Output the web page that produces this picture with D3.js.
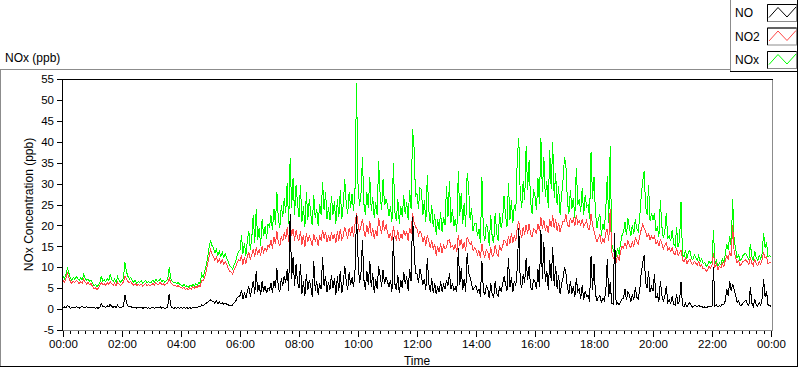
<!DOCTYPE html>
<html><head><meta charset="utf-8">
<script src="https://cdn.jsdelivr.net/npm/d3@7"></script>
<style>
html,body{margin:0;padding:0;background:#fff;}
svg{display:block;font-family:"Liberation Sans",Arial,sans-serif;}
</style></head>
<body>
<svg id="chart" width="800" height="369"></svg>
<script>
// ---- data (3-minute samples, 00:00 .. 24:00; one row per hour) ----
const NO = [
0.3,0.5,0.4,0.8,0.6,0.2,0.4,0.5,0.3,0.6,0.4,0.2,0.5,0.7,0.3,0.4,0.6,0.3,0.4,0.5,
0.4,0.3,0.2,0.3,0.2,0.5,1.3,0.7,0.6,0.4,0.8,0.5,1.2,0.6,0.4,0.7,0.3,0.9,0.5,0.4,
0.5,0.7,3.3,1.6,0.8,0.5,0.6,0.4,0.3,0.5,0.2,0.4,0.3,0.5,0.2,0.3,0.4,0.2,0.3,0.2,
0.3,0.4,0.2,0.5,0.3,0.4,0.5,0.2,0.4,0.2,0.3,0.5,3.7,0.8,0.3,0.2,0.3,0.2,0.3,0.2,
0.3,0.2,0.3,0.2,0.3,0.2,0.3,0.2,0.4,0.3,0.4,0.3,0.6,0.5,1.0,0.8,1.1,1.4,1.6,2.0,
2.2,1.9,1.8,1.4,2.0,1.3,1.7,1.2,1.6,1.1,1.4,1.2,1.0,0.9,0.8,1.0,1.5,1.8,2.6,3.0,
3.2,4.6,2.4,3.8,2.6,4.2,5.4,3.0,4.6,6.8,3.6,9.2,4.2,5.8,3.4,6.6,4.2,5.6,3.8,5.0,
4.6,6.2,3.8,6.8,5.0,9.8,5.2,4.0,7.4,5.6,8.0,6.2,9.6,4.4,22.7,7.2,12.4,5.6,10.8,6.4,
5.0,10.8,3.6,6.6,3.2,8.4,4.6,7.0,5.4,3.0,11.6,4.4,6.8,3.4,6.2,4.8,12.4,5.6,8.0,4.2,
6.4,4.6,8.2,5.0,7.4,3.4,7.8,4.4,9.2,3.8,6.0,10.4,6.8,4.6,8.8,5.8,7.6,5.2,9.4,22.5,
12.4,6.2,8.4,16.4,7.0,4.6,9.2,5.8,11.6,5.2,8.6,3.8,7.2,4.8,10.2,8.0,5.4,9.4,6.0,7.6,
6.6,5.2,7.0,4.2,17.2,6.0,4.6,8.2,3.8,7.0,5.0,8.8,6.0,7.8,4.4,9.6,6.6,22.0,14.8,8.4,
8.4,6.2,9.6,7.8,5.8,7.2,4.6,12.3,6.0,4.2,7.4,3.8,6.2,3.6,5.4,4.0,6.6,4.2,5.8,4.8,
7.0,5.6,8.6,4.8,6.2,4.4,5.2,4.0,14.5,5.8,9.8,4.6,7.2,4.2,13.3,8.8,7.6,6.0,4.6,5.2,
5.6,4.0,4.8,3.0,11.6,4.4,3.4,5.6,4.8,2.6,6.2,3.4,2.8,6.6,3.8,3.0,5.4,4.2,5.8,7.8,
6.0,4.4,12.3,5.2,7.6,4.2,6.8,5.6,9.8,19.4,6.6,5.0,8.4,6.2,12.3,7.0,10.2,5.2,4.6,7.0,
6.4,4.8,9.6,5.4,18.8,7.2,16.0,6.4,9.2,4.6,11.8,6.8,14.8,5.6,10.4,4.8,8.2,3.6,6.0,7.4,
10.0,8.4,5.0,3.6,6.8,3.6,5.4,2.8,7.4,4.2,4.8,2.4,5.8,2.2,4.4,3.0,3.2,1.8,12.8,4.6,
10.8,3.6,2.0,2.8,3.2,1.6,2.6,2.0,4.2,12.0,3.0,6.4,1.4,1.2,18.3,1.0,1.6,1.0,1.8,2.4,
2.6,4.8,2.2,4.2,3.4,1.8,3.6,2.2,5.2,2.8,2.4,4.6,8.6,11.0,12.8,6.4,5.0,9.2,4.0,5.4,
4.4,8.4,2.6,3.4,1.8,6.8,3.4,1.8,3.0,5.6,1.6,2.2,1.4,3.0,1.2,1.0,3.6,1.2,2.0,6.4,
0.8,0.6,1.4,0.5,1.2,1.6,0.7,0.4,0.9,0.8,0.5,0.9,0.6,0.7,0.3,0.5,0.4,0.5,0.7,0.6,
0.6,10.0,0.8,1.0,0.5,0.8,0.6,1.2,1.0,2.0,4.8,3.2,6.8,4.4,6.0,4.6,3.4,1.6,2.0,1.0,
0.9,1.4,1.8,2.2,1.2,0.8,5.2,1.4,0.7,2.4,1.0,0.7,1.6,0.9,2.6,7.2,3.0,4.2,1.0,0.8,
0.7
];
const NO2 = [
6.9,6.4,7.4,8.6,7.6,6.6,6.1,6.7,6.3,6.9,6.5,6.0,6.6,6.2,7.2,6.5,6.0,6.4,5.8,6.1,
5.4,4.8,5.1,4.6,5.0,5.6,6.4,5.8,6.1,5.7,6.3,5.9,6.6,6.0,5.7,6.2,5.6,6.4,5.9,5.7,
6.0,6.5,7.8,7.2,6.6,6.3,6.6,6.0,5.7,6.1,5.6,5.9,5.7,6.0,5.5,5.8,6.1,5.6,5.9,5.6,
5.8,6.1,5.7,6.3,5.9,6.0,6.4,5.8,6.1,5.7,6.0,6.2,7.4,6.4,5.9,5.6,5.8,5.4,5.6,5.3,
5.2,4.9,5.3,4.7,5.0,4.6,5.1,4.8,5.3,4.9,5.4,5.1,5.7,5.4,6.9,6.8,7.6,9.0,10.6,12.4,
14.2,13.2,12.6,11.6,12.4,11.2,12.0,11.0,11.8,10.8,11.4,10.6,9.8,9.0,8.8,8.4,9.4,10.0,11.0,11.8,
11.6,12.8,10.6,12.4,10.8,12.6,13.6,11.8,13.0,14.4,12.4,14.8,13.2,14.2,12.8,15.0,13.6,14.6,13.8,15.2,
14.8,16.6,14.4,17.2,15.6,18.6,16.0,15.0,17.4,16.2,18.4,16.8,19.6,16.0,20.8,17.6,19.2,16.4,18.8,17.0,
16.4,18.6,15.4,17.8,14.8,18.2,16.0,17.6,16.4,15.2,18.0,16.2,17.2,15.0,17.6,16.4,19.0,16.8,18.4,16.0,
17.6,16.2,18.4,16.8,18.0,15.8,18.6,16.4,19.2,16.6,17.4,19.6,18.2,16.8,19.4,17.6,19.8,17.2,20.4,23.0,
20.4,18.4,19.8,21.6,18.8,17.2,20.2,18.0,21.0,17.6,19.4,16.8,19.0,17.4,21.8,19.6,18.0,21.2,18.6,20.2,
18.4,17.0,18.2,16.4,19.8,17.4,16.6,18.8,16.2,18.0,16.8,19.0,17.4,18.6,16.4,19.4,18.0,23.0,20.8,19.6,
19.2,17.6,18.6,18.0,16.0,17.4,15.2,17.8,16.2,14.6,16.4,14.2,15.6,12.8,15.0,13.6,15.8,13.4,15.2,14.4,
14.8,16.4,16.6,14.8,15.2,14.2,15.6,13.6,17.8,15.0,16.8,14.4,16.0,14.0,17.2,16.4,15.4,16.0,14.0,14.6,
14.2,13.0,14.0,12.2,15.6,13.4,12.4,14.2,13.6,11.8,14.8,12.6,12.8,15.4,13.4,12.6,15.2,14.0,15.0,16.4,
16.2,15.0,17.4,15.6,18.2,15.8,17.6,16.4,19.6,21.0,18.4,17.0,19.6,17.8,20.2,18.0,20.4,18.0,17.2,19.2,
19.0,18.0,20.4,18.6,22.0,19.2,21.2,18.8,20.0,18.2,21.4,19.6,22.4,19.4,21.6,18.8,20.6,18.4,19.8,21.0,
21.0,22.6,20.2,19.6,21.8,20.6,21.6,19.8,22.4,20.4,21.0,20.0,21.6,19.8,20.4,21.2,19.2,19.0,22.8,20.2,
18.6,17.2,16.0,17.0,17.8,15.6,16.8,15.8,18.2,19.2,16.4,24.0,13.6,12.4,11.8,11.2,12.8,11.6,13.8,15.0,
14.6,15.8,14.8,16.4,15.2,14.6,16.0,15.0,17.0,16.2,15.6,17.4,19.0,20.2,19.4,18.6,17.2,18.0,16.6,17.4,
16.8,17.4,15.6,16.2,15.0,16.6,15.8,14.4,15.2,15.8,14.2,14.6,13.8,14.6,13.4,13.0,14.6,12.8,13.4,14.2,
11.8,11.2,12.4,10.8,11.6,12.0,11.0,10.6,11.4,11.0,10.4,11.4,10.2,10.6,9.6,9.8,9.0,9.4,10.2,9.8,
10.6,13.4,10.0,10.8,9.4,10.2,9.8,11.0,10.2,11.6,12.8,12.0,13.6,12.6,20.0,13.8,12.4,11.0,11.6,10.4,
10.8,11.4,11.6,11.8,11.2,10.6,12.4,11.0,10.4,12.0,10.8,10.4,11.4,10.8,11.8,13.6,12.2,12.6,10.8,11.2,
11.0
];
const NOx = [
7.8,7.2,8.4,9.8,8.6,7.4,6.9,7.6,7.1,7.8,7.3,6.8,7.5,7.0,8.2,7.4,6.9,7.2,6.6,6.9,
6.2,5.6,5.9,5.3,5.8,6.4,7.9,6.6,7.0,6.5,7.4,6.8,8.2,7.1,6.6,7.2,6.4,7.7,6.9,6.5,
6.8,7.4,11.2,9.0,7.8,7.2,7.6,6.8,6.4,6.9,6.2,6.6,6.3,6.8,6.1,6.5,6.9,6.3,6.6,6.2,
6.5,6.9,6.4,7.1,6.6,6.8,7.2,6.5,6.9,6.4,6.8,7.0,10.0,7.4,6.6,6.3,6.5,6.1,6.3,6.0,
5.8,5.5,5.9,5.3,5.6,5.2,5.7,5.4,5.9,5.5,6.0,5.7,6.4,6.0,8.4,7.6,8.8,10.4,12.2,14.6,
16.4,15.2,14.6,13.4,14.2,12.8,13.8,12.6,13.6,12.4,13.2,12.2,11.4,10.4,10.0,9.6,10.6,11.4,12.8,13.8,
14.0,17.6,13.2,15.8,12.8,16.4,18.6,14.2,17.0,22.6,15.8,23.8,16.6,19.4,15.2,21.6,17.4,19.8,16.8,20.4,
19.6,22.4,18.8,24.0,20.2,28.0,21.6,19.4,24.8,22.0,26.6,23.0,30.2,20.4,36.0,24.2,31.4,22.6,29.6,25.4,
22.0,29.6,20.8,24.6,19.6,28.0,21.4,26.4,22.6,20.0,27.2,21.8,24.0,19.8,25.2,22.4,30.4,23.6,28.0,21.6,
24.4,21.2,27.0,22.6,25.8,20.4,26.2,22.0,28.4,21.6,24.8,31.0,25.4,22.8,28.0,24.2,27.6,23.4,29.0,54.0,
30.0,24.6,27.4,36.3,25.2,22.6,28.0,24.2,31.6,23.4,26.8,21.8,25.6,22.4,35.3,27.4,23.6,31.0,24.8,26.2,
25.0,22.2,24.6,20.8,34.8,23.2,21.0,26.4,20.4,24.6,22.0,27.2,22.8,25.6,21.4,28.4,24.0,43.0,38.6,27.0,
27.6,24.0,29.0,28.5,22.4,26.0,20.8,32.0,23.6,20.6,24.8,19.6,22.6,17.8,21.4,19.0,23.2,18.4,22.0,20.2,
29.4,22.0,30.5,20.6,24.0,19.8,21.6,18.4,33.0,22.2,27.8,20.4,25.4,19.6,32.6,29.2,21.4,24.2,18.6,20.4,
20.6,17.4,19.2,15.8,31.6,18.6,16.2,20.4,19.0,15.2,22.6,17.0,15.8,23.0,18.2,16.4,23.0,19.4,21.2,27.0,
22.4,19.6,30.2,21.4,26.0,20.6,24.8,23.4,36.0,41.0,27.4,24.2,30.6,26.0,39.0,28.4,35.6,25.8,22.8,28.6,
27.0,23.6,31.4,25.2,41.0,28.0,36.4,26.8,30.6,24.2,38.0,28.6,40.0,26.6,32.6,24.8,29.4,22.6,27.2,30.8,
36.4,34.0,25.6,22.8,28.4,24.0,26.6,21.8,33.8,25.0,26.2,23.2,29.0,22.4,27.2,24.4,25.0,21.6,37.6,26.4,
31.6,23.0,19.4,21.6,22.6,17.6,20.4,18.8,24.0,31.8,20.6,39.0,15.6,14.2,13.4,12.6,14.6,13.0,15.8,17.6,
18.4,20.8,17.6,21.7,19.6,17.4,20.2,18.0,21.6,19.2,18.6,22.0,27.0,30.4,33.0,24.4,22.6,29.6,21.0,23.0,
21.4,23.0,18.6,19.8,17.2,26.0,19.8,17.0,18.4,23.0,16.8,17.6,16.2,19.0,15.6,15.0,19.6,14.8,16.2,25.6,
13.0,12.4,14.2,12.0,13.6,14.0,12.2,11.8,13.0,12.4,11.6,12.8,11.4,12.0,10.8,11.2,10.2,10.6,11.4,11.0,
11.4,18.8,10.8,11.6,10.2,11.0,10.6,12.0,11.2,13.0,15.6,14.2,17.4,15.0,26.3,16.4,14.6,12.2,13.0,11.6,
12.0,12.8,13.2,13.3,12.4,11.8,15.6,12.6,11.6,13.8,12.2,11.6,12.8,12.0,13.4,18.2,14.6,16.0,12.4,12.8,
12.6
];
const stepMinutes = 3;
const xTickMinutes = [0,120,240,360,480,600,720,840,960,1080,1200,1320,1440];
const xTickLabels = ["00:00","02:00","04:00","06:00","08:00","10:00","12:00","14:00","16:00","18:00","20:00","22:00","00:00"];
const yTicks = [-5,0,5,10,15,20,25,30,35,40,45,50,55];
const seriesNames = ["NO","NO2","NOx"];
const seriesColors = ["#000000","#ff4646","#00ff00"];

// ---- drawing ----
const svg = d3.select("#chart");
const L = 62, R = 772, T = 79, B = 330;
const x = d3.scaleLinear().domain([0,1440]).range([63,771]);
const y = d3.scaleLinear().domain([-5,55]).range([B,T]);

// outer panel frame
svg.append("line").attr("x1",0).attr("x2",730).attr("y1",69.5).attr("y2",69.5).attr("stroke","#8c8c8c");
svg.append("line").attr("x1",0.5).attr("x2",0.5).attr("y1",69).attr("y2",367).attr("stroke","#8c8c8c");
svg.append("line").attr("x1",0).attr("x2",798).attr("y1",366.5).attr("y2",366.5).attr("stroke","#000");
svg.append("line").attr("x1",797.5).attr("x2",797.5).attr("y1",0).attr("y2",367).attr("stroke","#000");
// legend box
svg.append("line").attr("x1",730.5).attr("x2",730.5).attr("y1",0).attr("y2",72).attr("stroke","#8c8c8c");
svg.append("line").attr("x1",730).attr("x2",798).attr("y1",71.5).attr("y2",71.5).attr("stroke","#000");

// title
svg.append("text").attr("x",5).attr("y",62).attr("font-size",12).attr("fill","#000").text("NOx (ppb)");

// clip
svg.append("clipPath").attr("id","clip").append("rect").attr("x",L+1).attr("y",T+1).attr("width",R-L-1).attr("height",B-T-1);

const line = d3.line().x((d,i)=>x(i*stepMinutes)).y(d=>y(d));
const g = svg.append("g").attr("clip-path","url(#clip)");
[[NOx,seriesColors[2]],[NO2,seriesColors[1]],[NO,seriesColors[0]]].forEach(([data,c])=>{
  g.append("path").datum(data).attr("d",line).attr("fill","none").attr("stroke",c)
   .attr("stroke-width",1).attr("shape-rendering","crispEdges");
});

// plot frame
svg.append("line").attr("x1",L).attr("x2",R+1).attr("y1",T+0.5).attr("y2",T+0.5).attr("stroke","#000");
svg.append("line").attr("x1",L+0.5).attr("x2",L+0.5).attr("y1",T).attr("y2",B+1).attr("stroke","#000");
svg.append("line").attr("x1",R+0.5).attr("x2",R+0.5).attr("y1",T+1).attr("y2",B+1).attr("stroke","#8c8c8c");
svg.append("line").attr("x1",L+1).attr("x2",R+1).attr("y1",B+0.5).attr("y2",B+0.5).attr("stroke","#8c8c8c");

// y axis
const yAxis = svg.append("g").attr("transform",`translate(${L},0)`)
  .call(d3.axisLeft(y).tickValues(yTicks).tickSize(5).tickPadding(3).tickFormat(d=>String(d)));
yAxis.select(".domain").remove();
yAxis.selectAll("line").attr("stroke","#000").attr("shape-rendering","crispEdges");
yAxis.selectAll("text").attr("font-size",11.5).attr("font-family","Liberation Sans, Arial, sans-serif").attr("fill","#000");

// x axis minor ticks
const minor = d3.range(0,1441,15).filter(m=>m%120!==0);
const xMinor = svg.append("g").attr("transform",`translate(0,${B+1})`)
  .call(d3.axisBottom(x).tickValues(minor).tickSize(3).tickFormat(""));
xMinor.select(".domain").remove();
xMinor.selectAll("line").attr("stroke","#000").attr("shape-rendering","crispEdges");
const xAxis = svg.append("g").attr("transform",`translate(0,${B+1})`)
  .call(d3.axisBottom(x).tickValues(xTickMinutes).tickSize(6).tickFormat((d,i)=>xTickLabels[i]));
xAxis.select(".domain").remove();
xAxis.selectAll("line").attr("stroke","#000").attr("shape-rendering","crispEdges");
xAxis.selectAll("text").attr("y",17).attr("dy",0).attr("font-size",11.5)
  .attr("font-family","Liberation Sans, Arial, sans-serif").attr("fill","#000");

// axis titles
svg.append("text").attr("x",(L+R)/2).attr("y",365).attr("text-anchor","middle").attr("font-size",12).attr("fill","#000").text("Time");
svg.append("text").attr("transform",`translate(33,${(T+B)/2}) rotate(-90)`).attr("text-anchor","middle")
  .attr("font-size",12).attr("fill","#000").text("NOx Concentration (ppb)");

// legend
const lg = svg.append("g");
seriesNames.forEach((name,i)=>{
  const yy = 4 + i*23.5;
  lg.append("text").attr("x",735).attr("y",yy+13).attr("font-size",12).attr("fill","#000").text(name);
  lg.append("rect").attr("x",767.5).attr("y",yy+0.5).attr("width",29).attr("height",17)
    .attr("fill","#fff").attr("stroke","#8c8c8c");
  lg.append("path").attr("d",`M767.5,${yy+17.5}V${yy+0.5}H796.5`).attr("fill","none").attr("stroke","#000");
  lg.append("path").attr("d",`M${769},${yy+13.5}L${778},${yy+3.5}L${787},${yy+13}L${796},${yy+3}`)
    .attr("fill","none").attr("stroke",seriesColors[i]).attr("stroke-width",1);
});
</script>
</body></html>
